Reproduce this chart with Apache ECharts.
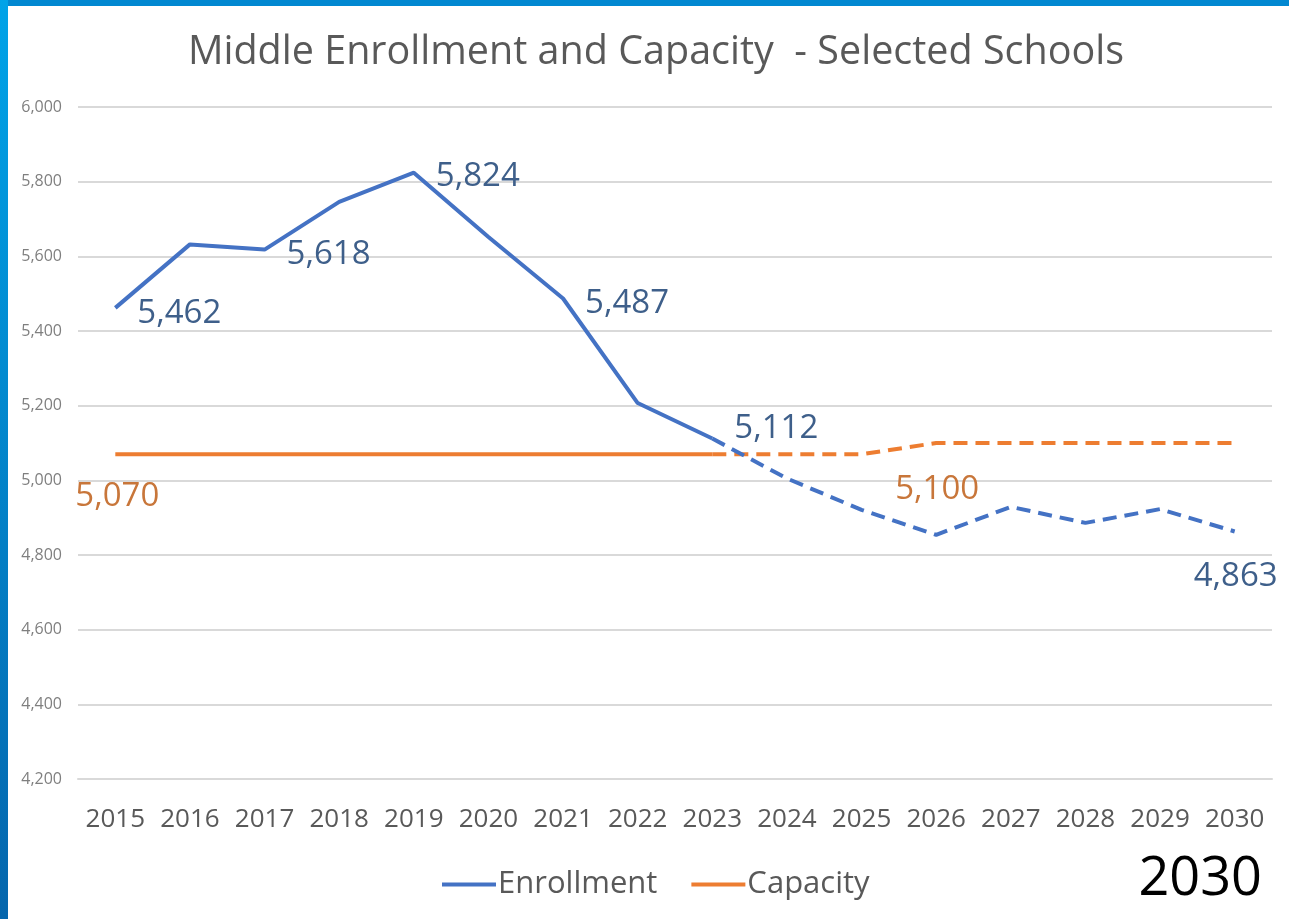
<!DOCTYPE html>
<html>
<head>
<meta charset="utf-8">
<script src="https://cdn.jsdelivr.net/npm/echarts@6/dist/echarts.min.js"></script>
<style>
html,body{margin:0;padding:0;background:#fff;}
#chart{width:1289px;height:919px;}
</style>
</head>
<body>
<div id="chart"></div>
<script>
// ---- data ----
const years = ['2015','2016','2017','2018','2019','2020','2021','2022','2023','2024','2025','2026','2027','2028','2029','2030'];
const enrollment = [5462,5632,5618,5746,5824,5652,5487,5207,5112,5005,4921,4854,4929,4886,4923,4863];
const capacity = [5070,5070,5070,5070,5070,5070,5070,5070,5070,5070,5070,5100,5100,5100,5100,5100];
const lastActualYear = '2023';
const enrollmentLabelYears = ['2015','2017','2019','2021','2023','2030'];
const capacityLabelYears = ['2015','2026'];
const yMin = 4200, yMax = 6000, yStep = 200;
const chartTitle = 'Middle Enrollment and Capacity  - Selected Schools';
const cornerText = '2030';

// ---- build ----
const splitIdx = years.indexOf(lastActualYear);
const fmt = v => v.toLocaleString('en-US');
const BLUE = '#4472C4', ORANGE = '#ED7D31';
const BLUE_LBL = '#3E5F8A', ORANGE_LBL = '#C8763A';
const FONT = 'Open Sans';
const LBL_SIZE = 33;

// label placement relative to the data point: [dx, dy] of the label box anchor
const labelPlace = {
  enr: {
    '2015': {pos:[22, 6], align:'left'},
    '2017': {pos:[22, 5], align:'left'},
    '2019': {pos:[22, 4], align:'left'},
    '2021': {pos:[22, 5], align:'left'},
    '2023': {pos:[22, -10], align:'left'},
    '2030': {pos:[1, 45], align:'center'}
  },
  cap: {
    '2015': {pos:[2, 42], align:'center'},
    '2026': {pos:[1, 47], align:'center'}
  }
};

function labelFor(year, kind) {
  const p = labelPlace[kind][year];
  return {
    show: true, fontSize: LBL_SIZE, fontFamily: FONT,
    position: p.pos, align: p.align, verticalAlign: 'middle',
    color: kind === 'enr' ? BLUE_LBL : ORANGE_LBL
  };
}

function buildData(values, labelYears, kind, part) {
  return values.map((v, i) => {
    const inPart = part === 'actual' ? i <= splitIdx : i >= splitIdx;
    if (!inPart) return null;
    const y = years[i];
    let showLabel = labelYears.includes(y);
    if (part === 'proj' && i === splitIdx) showLabel = false;
    return {value: v, label: showLabel ? labelFor(y, kind) : {show:false}};
  });
}

function lineSeries(name, color, values, labelYears, kind, part) {
  return {
    name: name,
    type: 'line',
    data: buildData(values, labelYears, kind, part),
    symbol: 'circle',
    symbolSize: 0,
    showSymbol: true,
    connectNulls: false,
    lineStyle: {color: color, width: 4, type: part === 'proj' ? [14, 8] : 'solid', cap: 'butt'},
    itemStyle: {color: color},
    label: {formatter: p => fmt(p.value)},
    emphasis: {disabled: true},
    labelLayout: {hideOverlap: false},
    z: kind === 'enr' ? 3 : 2
  };
}

const chart = echarts.init(document.getElementById('chart'));
chart.setOption({
  backgroundColor: '#fff',
  animation: false,
  title: {
    text: chartTitle,
    left: 651, top: 28,
    textAlign: 'center',
    textStyle: {color: '#595959', fontSize: 39.5, fontWeight: 'normal', fontFamily: FONT}
  },
  grid: {left: 78, right: 17, top: 107, bottom: 140, containLabel: false},
  legend: {
    data: ['Enrollment', 'Capacity'],
    bottom: 14, left: 437,
    icon: 'rect', itemWidth: 54, itemHeight: 4, itemGap: 34,
    textStyle: {color: '#595959', fontSize: 31, fontFamily: FONT, padding: [0,0,0,-3]}
  },
  xAxis: {
    type: 'category',
    data: years,
    boundaryGap: true,
    axisLine: {show: true, lineStyle: {color: '#D9D9D9', width: 2}},
    axisTick: {show: false},
    axisLabel: {interval: 0, hideOverlap: false, color: '#595959', fontSize: 26, fontFamily: FONT, margin: 28}
  },
  yAxis: {
    type: 'value',
    min: yMin, max: yMax, interval: yStep,
    axisLine: {show: false},
    axisTick: {show: false},
    axisLabel: {color: '#7F7F7F', fontSize: 16, fontFamily: FONT, margin: 16, formatter: v => fmt(v)},
    splitLine: {lineStyle: {color: '#D9D9D9', width: 2}}
  },
  graphic: [
    {type: 'rect', left: 0, top: 0, shape: {width: 1289, height: 6}, style: {fill: '#0288D1'}, z: 100},
    {type: 'rect', left: 0, top: 0, shape: {width: 8, height: 919},
      style: {fill: new echarts.graphic.LinearGradient(0,0,0,1,[{offset:0,color:'#00A3E8'},{offset:1,color:'#0566AD'}])}, z: 100},
    {type: 'text', right: 27, top: 853, style: {text: cornerText, fill: '#000', fontSize: 54, fontFamily: FONT}, z: 100}
  ],
  series: [
    lineSeries('Enrollment', BLUE, enrollment, enrollmentLabelYears, 'enr', 'actual'),
    lineSeries('Enrollment', BLUE, enrollment, enrollmentLabelYears, 'enr', 'proj'),
    lineSeries('Capacity', ORANGE, capacity, capacityLabelYears, 'cap', 'actual'),
    lineSeries('Capacity', ORANGE, capacity, capacityLabelYears, 'cap', 'proj')
  ]
});
</script>
</body>
</html>
